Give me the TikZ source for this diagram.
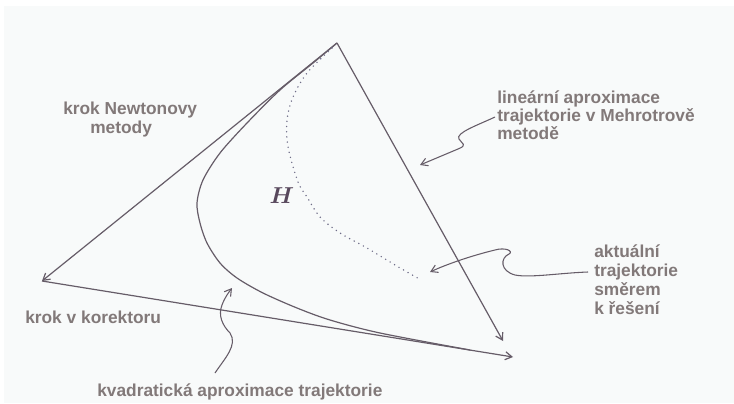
\documentclass[tikz,border=0pt]{standalone}
\usepackage{fontspec}
\usepackage{amsmath}
\setmainfont{Liberation Sans}
\newfontfamily\lblfont{Liberation Sans}
\usetikzlibrary{arrows.meta}
\definecolor{bgc}{RGB}{248,250,250}
\definecolor{linec}{RGB}{102,92,104}
\definecolor{dotc}{RGB}{110,108,135}
\definecolor{txtc}{RGB}{130,121,121}
\definecolor{hc}{RGB}{88,72,92}
\tikzset{
  lbl/.style={anchor=base west, inner sep=0pt, text=txtc, font=\lblfont\bfseries\fontsize{13pt}{14pt}\selectfont},
  mainline/.style={draw=linec, line width=0.9pt},
  tip/.style={-{Straight Barb[length=5pt,width=6pt]}},
  squig/.style={draw=linec, line width=0.8pt, -{Straight Barb[length=5pt,width=6pt]}},
  dotline/.style={draw=dotc, line width=1.2pt, line cap=round, dash pattern=on 0pt off 3.9pt}
}
\begin{document}
\begin{tikzpicture}[x=0.75pt,y=-0.75pt]
\useasboundingbox (0,0) rectangle (734,403);
\fill[white] (0,0) rectangle (734,403);
\fill[bgc] (4,6) rectangle (734,403);

% main points
\coordinate (A) at (337,43);
\coordinate (L) at (42,281);
\coordinate (R1) at (503,341);
\coordinate (R2) at (513,357);

\draw[mainline,tip] (A) -- (L);
\draw[mainline,tip] (A) -- (R1);
\draw[mainline,tip] (L) -- (R2);

% quadratic approximation curve
\draw[mainline] plot[smooth, tension=0.5] coordinates {(337,43) (313,63) (280,90) (247,123) (220,153) (203,180) (197,203) (200,223) (207,243) (220,263) (237,278) (263,293) (297,308) (330,320) (380,333) (470,350)};

% actual trajectory (dotted)
\draw[dotline] plot[smooth, tension=0.5] coordinates {(332,48) (307,73) (293,97) (287,120) (288,147) (298,182) (307,197) (320,217) (340,233) (367,248) (395,265) (421,280)};

% H
\node[inner sep=0pt, text=hc, font=\fontsize{16pt}{16pt}\selectfont] (H) at (282,196) {$\boldsymbol{H}$};

% labels
\node[lbl] (newton1) at (63,114) {krok Newtonovy};
\node[lbl] (newton2) at (90,133) {metody};
\node[lbl] (lin1) at (497,103) {lineární aproximace};
\node[lbl] (lin2) at (497,121) {trajektorie v Mehrotrově};
\node[lbl] (lin3) at (497,139) {metodě};
\node[lbl] (akt1) at (594,257) {aktuální};
\node[lbl] (akt2) at (594,276) {trajektorie};
\node[lbl] (akt3) at (594,295) {směrem};
\node[lbl] (akt4) at (594,314) {k řešení};
\node[lbl] (kor) at (25,323) {krok v korektoru};
\node[lbl] (kvad) at (97,396) {kvadratická aproximace trajektorie};

% squiggly pointers
\coordinate (s1) at (495,117);
\coordinate (t1) at (420,165);
\draw[squig] (s1) .. controls (478,125) and (455,133) .. (459,139) .. controls (462,144) and (468,145) .. (458,149) -- (t1);

\coordinate (s2) at (588,272);
\coordinate (t2) at (430,272);
\draw[squig] (s2) .. controls (560,273) and (530,278) .. (515,275) .. controls (500,271) and (500,258) .. (509,254) .. controls (514,251) and (505,247) .. (495,250) .. controls (470,256) and (445,265) .. (t2);

\coordinate (s3) at (215,373);
\coordinate (t3) at (232,288);
\draw[squig] (s3) .. controls (225,358) and (238,345) .. (230,333) .. controls (222,325) and (218,315) .. (222,305) .. controls (225,297) and (229,292) .. (t3);
\end{tikzpicture}
\end{document}
